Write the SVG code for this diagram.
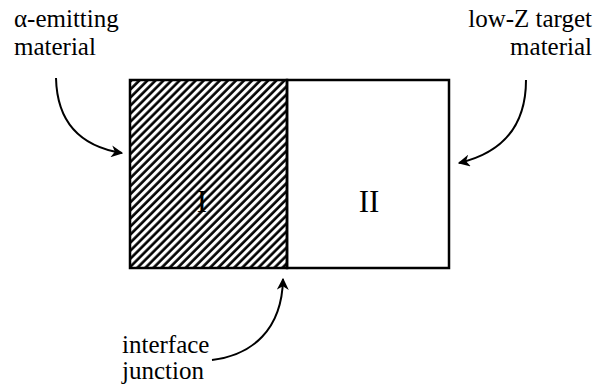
<svg xmlns="http://www.w3.org/2000/svg" width="596" height="387" viewBox="0 0 596 387">
<defs>
<style>
.t{font-family:"Liberation Serif","Times New Roman",serif;font-size:25px;fill:#000}
.r{font-family:"Liberation Serif","Times New Roman",serif;font-size:31px;fill:#000;text-anchor:middle}
.box{fill:none;stroke:#000;stroke-width:2.5}
.hatched{fill:url(#hatch)}
.arr{fill:none;stroke:#000;stroke-width:2;marker-end:url(#ah)}
</style>
<pattern id="hatch" width="5.7" height="10" patternUnits="userSpaceOnUse" patternTransform="rotate(45)">
<rect width="5.7" height="10" fill="#fff"/>
<line x1="1.5" y1="-1" x2="1.5" y2="11" stroke="#000" stroke-width="2.6"/>
</pattern>
<marker id="ah" viewBox="0 0 10 10" refX="9" refY="5" markerWidth="12" markerHeight="12" markerUnits="userSpaceOnUse" orient="auto">
<path d="M0,0 L10,5 L0,10 L3,5 Z" fill="#000"/>
</marker>
</defs>
<rect width="596" height="387" fill="#fff"/>
<g id="region-I">
<rect x="130" y="80" width="157" height="188" class="box hatched"/>
<text class="r" x="202" y="212">I</text>
</g>
<g id="region-II">
<rect x="287" y="80" width="162" height="188" class="box"/>
<text class="r" x="369" y="212">II</text>
</g>
<g id="label-alpha">
<text class="t" x="14" y="27">α-emitting</text>
<text class="t" x="14" y="55">material</text>
</g>
<g id="label-lowz">
<text class="t" x="592" y="27" text-anchor="end">low-Z target</text>
<text class="t" x="592" y="55" text-anchor="end">material</text>
</g>
<g id="label-interface">
<text class="t" x="122" y="353">interface</text>
<text class="t" x="122" y="379">junction</text>
</g>
<g id="connectors">
<path class="arr" d="M56,78 C57,120 78,146 122,153"/>
<path class="arr" d="M526,80 C526,122 506,152 459,163"/>
<path class="arr" d="M212,360 C252,355 282,330 283,279"/>
</g>
</svg>
